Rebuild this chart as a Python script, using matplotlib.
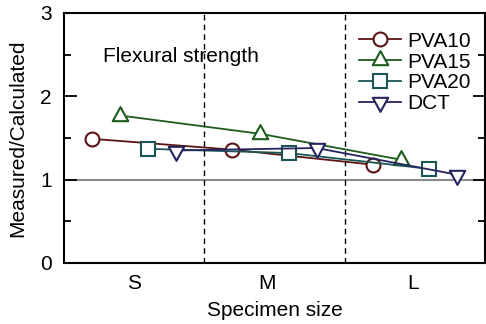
import numpy as np
import matplotlib
matplotlib.use('Agg')
import matplotlib.pyplot as plt
from matplotlib.path import Path

plt.rcParams['font.family'] = ['Liberation Sans', 'DejaVu Sans']

sizes = ['S', 'M', 'L']
series = ['PVA10', 'PVA15', 'PVA20', 'DCT']
pva10 = [1.49, 1.36, 1.18]
pva15 = [1.77, 1.55, 1.24]
pva20 = [1.37, 1.32, 1.13]
dct = [1.35, 1.38, 1.06]

colors = ['#5a1414', '#1c5c1c', '#1a5656', '#24245e']
offsets = [0.2, 0.4, 0.6, 0.8]

# triangles with the data point at the centroid
tri_up = Path([(0, 0.667), (-0.55, -0.333), (0.55, -0.333), (0, 0.667)],
              [Path.MOVETO, Path.LINETO, Path.LINETO, Path.CLOSEPOLY])
tri_dn = Path([(0, -0.667), (-0.55, 0.333), (0.55, 0.333), (0, -0.667)],
              [Path.MOVETO, Path.LINETO, Path.LINETO, Path.CLOSEPOLY])
markers = ['o', tri_up, 's', tri_dn]
msizes = [10, 13.5, 9.5, 13.5]

fig = plt.figure(figsize=(4.86, 3.24), dpi=100)
ax = fig.add_axes([64 / 486, 61 / 324, 421 / 486, 250 / 324])

ax.axhline(1, color='#8a8a8a', lw=1.5, zorder=1)
for xv in [1, 2]:
    ax.axvline(xv, color='black', lw=1, ls=(0, (4, 3)), zorder=1)

for i, vals in enumerate([pva10, pva15, pva20, dct]):
    xs = np.arange(len(sizes)) + offsets[i]
    ax.plot(xs, vals, color=colors[i], lw=1.3, marker=markers[i], ms=msizes[i],
            mfc='white', mec=colors[i], mew=1.5, label=series[i], zorder=3)

ax.text(0.28, 2.41, 'Flexural strength', fontsize=15, va='baseline', ha='left')

ax.set_xlim(0, 3)
ax.set_ylim(0, 3)
ax.set_xticks([0.5, 1.45, 2.49])
ax.set_xticklabels(sizes)
ax.tick_params(axis='x', length=0, pad=8, labelsize=15)
ax.set_yticks([0, 1, 2, 3])
ax.set_yticks([0.5, 1.5, 2.5], minor=True)
ax.tick_params(axis='y', which='major', direction='in', length=9, width=1.3,
               right=True, pad=9, labelsize=15)
ax.tick_params(axis='y', which='minor', direction='in', length=5, width=1.3,
               right=True)
for s in ax.spines.values():
    s.set_linewidth(1.5)

ax.set_xlabel('Specimen size', fontsize=15, labelpad=6)
ax.set_ylabel('Measured/Calculated', fontsize=15, labelpad=9)

ax.legend(loc='upper right', bbox_to_anchor=(0.995, 0.975), frameon=False,
          fontsize=15, handlelength=2.0, handletextpad=0.3, labelspacing=0.09,
          borderaxespad=0.2)

fig.savefig('out.png', dpi=100)
